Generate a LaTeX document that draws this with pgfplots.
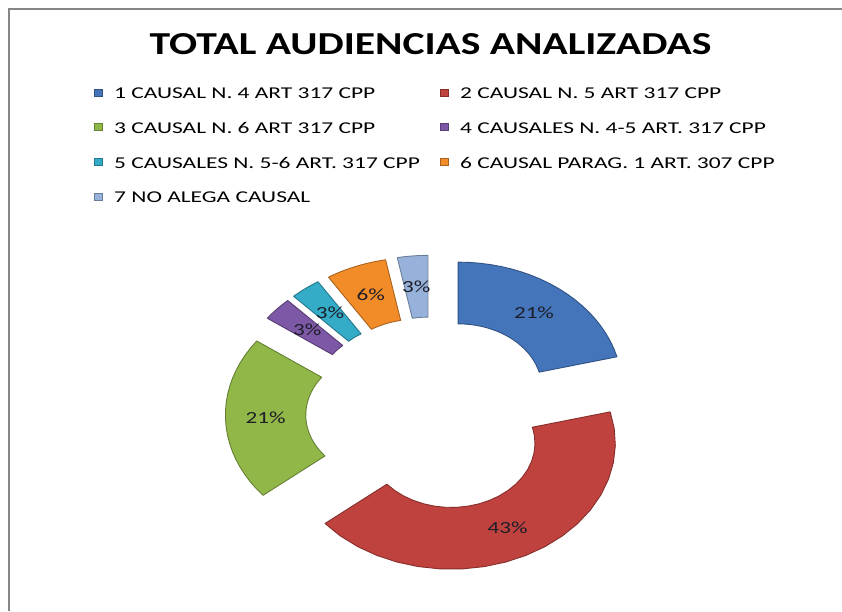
\documentclass[border=0pt]{standalone}
\usepackage{pgfplots}
\pgfplotsset{compat=1.18}
\usepackage{fontspec}
\setmainfont{Carlito}
\usepackage{graphicx}

\definecolor{c1}{RGB}{68,117,187}
\definecolor{c2}{RGB}{192,66,62}
\definecolor{c3}{RGB}{145,183,72}
\definecolor{c4}{RGB}{124,88,166}
\definecolor{c5}{RGB}{52,172,200}
\definecolor{c6}{RGB}{242,140,40}
\definecolor{c7}{RGB}{151,178,218}
\definecolor{frame}{RGB}{134,134,134}
\definecolor{lbltxt}{RGB}{30,30,40}

\def\Ro{1}
\def\Ri{0.51}
\def\D{0.26}
\newcommand\lbl{\fontsize{17}{17}\selectfont}
\newcommand\sx[1]{\scalebox{1.36}[1]{#1}}

% #1 cumulative start (%), #2 value (%), #3 colour
\newcommand\seg[3]{%
  \pgfmathsetmacro\sa{90-3.6*#1}%
  \pgfmathsetmacro\sb{90-3.6*(#1+#2)}%
  \pgfmathsetmacro\sd{\sb-\sa}%
  \pgfmathsetmacro\sm{(\sa+\sb)/2}%
  \pgfmathsetmacro\dx{\D*cos(\sm)}%
  \pgfmathsetmacro\dy{\D*sin(\sm)}%
  \pgfmathsetmacro\lx{(\D+(\Ro+\Ri)/2)*cos(\sm)}%
  \pgfmathsetmacro\ly{(\D+(\Ro+\Ri)/2)*sin(\sm)}%
  \edef\tmp{\noexpand\addplot[fill=#3, draw=#3!70!black, line width=0.9pt, line join=round,
      samples at={0,1,...,42}, variable=\noexpand\t]
    ({\dx+ifthenelse(\noexpand\t<20.5,\Ro,ifthenelse(\noexpand\t<41.5,\Ri,\Ro))*cos(ifthenelse(\noexpand\t<20.5,\sa+(\sd)*\noexpand\t/20,ifthenelse(\noexpand\t<41.5,\sb-(\sd)*(\noexpand\t-21)/20,\sa)))},
     {\dy+ifthenelse(\noexpand\t<20.5,\Ro,ifthenelse(\noexpand\t<41.5,\Ri,\Ro))*sin(ifthenelse(\noexpand\t<20.5,\sa+(\sd)*\noexpand\t/20,ifthenelse(\noexpand\t<41.5,\sb-(\sd)*(\noexpand\t-21)/20,\sa)))});
    \noexpand\node[font=\noexpand\lbl, text=lbltxt] at (axis cs:\lx,\ly) {\noexpand\sx{#2\noexpand\%}};}%
  \tmp}

\begin{document}
\begin{tikzpicture}
\begin{scope}[x=1pt,y=1pt]
\useasboundingbox (0,0) rectangle (842,611);
\fill[white] (0,0) rectangle (842,611);
\draw[frame, line width=2pt] (9,0) -- (9,601.5) -- (842,601.5);

% title
\node[anchor=base, font=\fontsize{32}{32}\selectfont\bfseries] at (430.5,556) {\scalebox{1.3}[1]{TOTAL AUDIENCIAS ANALIZADAS}};

% legend
\newcommand\legitem[4]{%
  \fill[#3] (#1-4,#2+3) rectangle (#1+4,#2+10);
  \draw[#3!70!black, line width=0.6pt] (#1-4,#2+3) rectangle (#1+4,#2+10);
  \node[anchor=base west, inner sep=0pt, font=\fontsize{16.5}{16.5}\selectfont] at (#1+16,#2) {\scalebox{1.42}[1]{#4}};}
\legitem{98}{512}{c1}{1 CAUSAL N. 4 ART 317 CPP}
\legitem{444}{512}{c2}{2 CAUSAL N. 5 ART 317 CPP}
\legitem{98}{477.3}{c3}{3 CAUSAL N. 6 ART 317 CPP}
\legitem{444}{477.3}{c4}{4 CAUSALES N. 4-5 ART. 317 CPP}
\legitem{98}{442.7}{c5}{5 CAUSALES N. 5-6 ART. 317 CPP}
\legitem{444}{442.7}{c6}{6 CAUSAL PARAG. 1 ART. 307 CPP}
\legitem{98}{408}{c7}{7 NO ALEGA CAUSAL}
\end{scope}

\begin{axis}[
  at={(432pt,197pt)}, anchor=center,
  scale only axis, width=492pt, height=378pt,
  xmin=-1.5, xmax=1.5, ymin=-1.5, ymax=1.5,
  hide axis, clip=false]
  \seg{0}{21}{c1}
  \seg{21}{43}{c2}
  \seg{64}{21}{c3}
  \seg{85}{3}{c4}
  \seg{88}{3}{c5}
  \seg{91}{6}{c6}
  \seg{97}{3}{c7}
\end{axis}
\end{tikzpicture}
\end{document}
